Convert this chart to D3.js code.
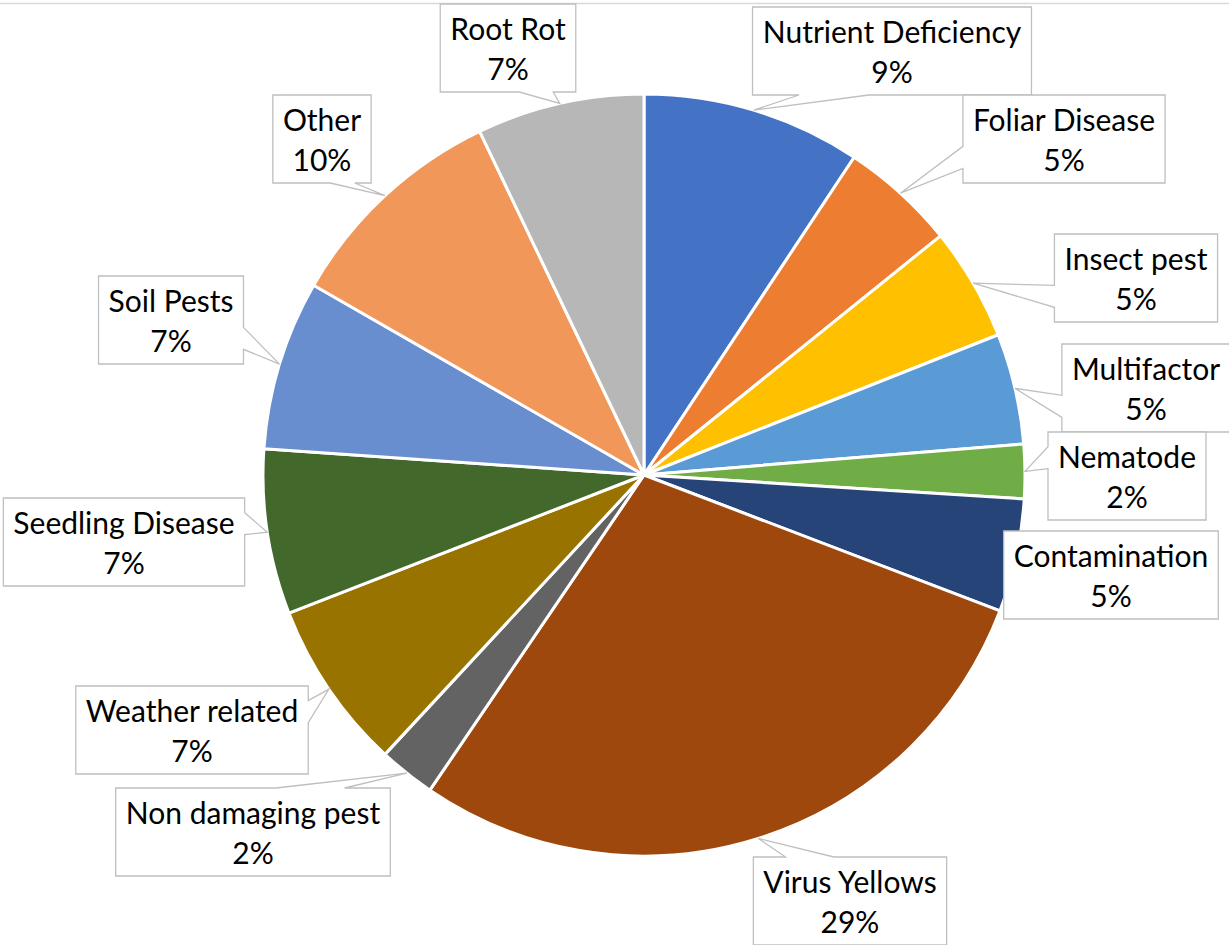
<!DOCTYPE html>
<html>
<head>
<meta charset="utf-8">
<script src="https://cdn.jsdelivr.net/npm/d3@7"></script>
<style>
    html, body { margin: 0; padding: 0; background: #fff; }
    svg { display: block; }
    .label-text { font-family: Lato, "Open Sans", sans-serif; font-size: 30px; fill: #000; }
</style>
</head>
<body>
<div id="chart"></div>
<script>
const WIDTH = 1229;
const HEIGHT = 945;

// data (share of cases, in percent)
const categories = ["Nutrient Deficiency", "Foliar Disease", "Insect pest", "Multifactor", "Nematode",
    "Contamination", "Virus Yellows", "Non damaging pest", "Weather related", "Seedling Disease",
    "Soil Pests", "Other", "Root Rot"];
const values = [9.3, 4.9, 4.8, 4.7, 2.3, 4.8, 28.7, 2.4, 7.2, 7.0, 7.2, 9.6, 7.1];
const colors = ["#4472C4", "#ED7D31", "#FFC000", "#5B9BD5", "#70AD47", "#264478", "#9E480E",
    "#636363", "#997300", "#43682B", "#698ED0", "#F1975A", "#B7B7B7"];

// where each callout box sits (box centre, page px)
const labelCenters = [[892, 51], [1064, 139], [1136, 278], [1146, 388], [1127, 476], [1111, 575],
    [850, 901], [253, 832], [192, 730], [124, 542], [171, 320], [322, 139], [508, 48]];

const cx = 644, cy = 475, radius = 381;
const BOX_H = 88, PAD = 10;

const svg = d3.select("#chart").append("svg")
    .attr("width", WIDTH)
    .attr("height", HEIGHT);

// chart area border, only the top edge is in view
svg.append("line")
    .attr("x1", 0).attr("x2", WIDTH)
    .attr("y1", 3.5).attr("y2", 3.5)
    .attr("stroke", "#d9d9d9")
    .attr("stroke-width", 1.5);

const total = d3.sum(values);
const pct = d3.format(".0%");

const pie = d3.pie().sort(null).value(d => d.value);
const arc = d3.arc().innerRadius(0).outerRadius(radius);

const data = categories.map((c, i) => ({ key: c, value: values[i], color: colors[i], center: labelCenters[i] }));
const arcs = pie(data);

const g = svg.append("g").attr("transform", "translate(" + cx + "," + cy + ")");

g.selectAll(".slice")
    .data(arcs)
    .enter().append("path")
    .attr("class", "slice")
    .attr("d", arc)
    .attr("fill", d => d.data.color)
    .attr("stroke", "#fff")
    .attr("stroke-width", 3)
    .attr("stroke-linejoin", "round");

// office style wedgeRectCallout outline
function callout(l, t, w, h, px, py) {
    const r = l + w, b = t + h;
    const inside = px >= l && px <= r && py >= t && py <= b;
    const dx = px - (l + w / 2), dy = py - (t + h / 2);
    const dz = Math.abs(dy) - Math.abs(dx * h / w);
    const x1 = l + w * (dx > 0 ? 7 : 2) / 12, x2 = l + w * (dx > 0 ? 10 : 5) / 12;
    const y1 = t + h * (dy > 0 ? 7 : 2) / 12, y2 = t + h * (dy > 0 ? 10 : 5) / 12;
    let side = null;
    if (!inside) side = dz > 0 ? (dy < 0 ? "top" : "bottom") : (dx < 0 ? "left" : "right");

    const p = d3.path();
    p.moveTo(l, t);
    if (side === "top") { p.lineTo(x1, t); p.lineTo(px, py); p.lineTo(x2, t); }
    p.lineTo(r, t);
    if (side === "right") { p.lineTo(r, y1); p.lineTo(px, py); p.lineTo(r, y2); }
    p.lineTo(r, b);
    if (side === "bottom") { p.lineTo(x2, b); p.lineTo(px, py); p.lineTo(x1, b); }
    p.lineTo(l, b);
    if (side === "left") { p.lineTo(l, y2); p.lineTo(px, py); p.lineTo(l, y1); }
    p.closePath();
    return p.toString();
}

const labels = svg.selectAll(".label")
    .data(arcs)
    .enter().append("g")
    .attr("class", "label");

const shapes = labels.append("path")
    .attr("fill", "#fff")
    .attr("stroke", "#bfbfbf")
    .attr("stroke-width", 1.3);

const texts = labels.append("text")
    .attr("class", "label-text")
    .attr("text-anchor", "middle");

texts.append("tspan")
    .attr("x", d => d.data.center[0])
    .attr("y", d => d.data.center[1] - BOX_H / 2 + 36)
    .text(d => d.data.key);

texts.append("tspan")
    .attr("x", d => d.data.center[0])
    .attr("y", d => d.data.center[1] - BOX_H / 2 + 76)
    .text(d => pct(d.data.value / total));

// size the boxes after the text is measured
shapes.attr("d", function (d) {
    const tw = this.parentNode.querySelector("text").getBBox().width;
    const w = tw + 2 * PAD;
    const l = d.data.center[0] - w / 2, t = d.data.center[1] - BOX_H / 2;
    const a = (d.startAngle + d.endAngle) / 2;
    const px = cx + radius * Math.sin(a), py = cy - radius * Math.cos(a);
    return callout(l, t, w, BOX_H, px, py);
});
</script>
</body>
</html>
